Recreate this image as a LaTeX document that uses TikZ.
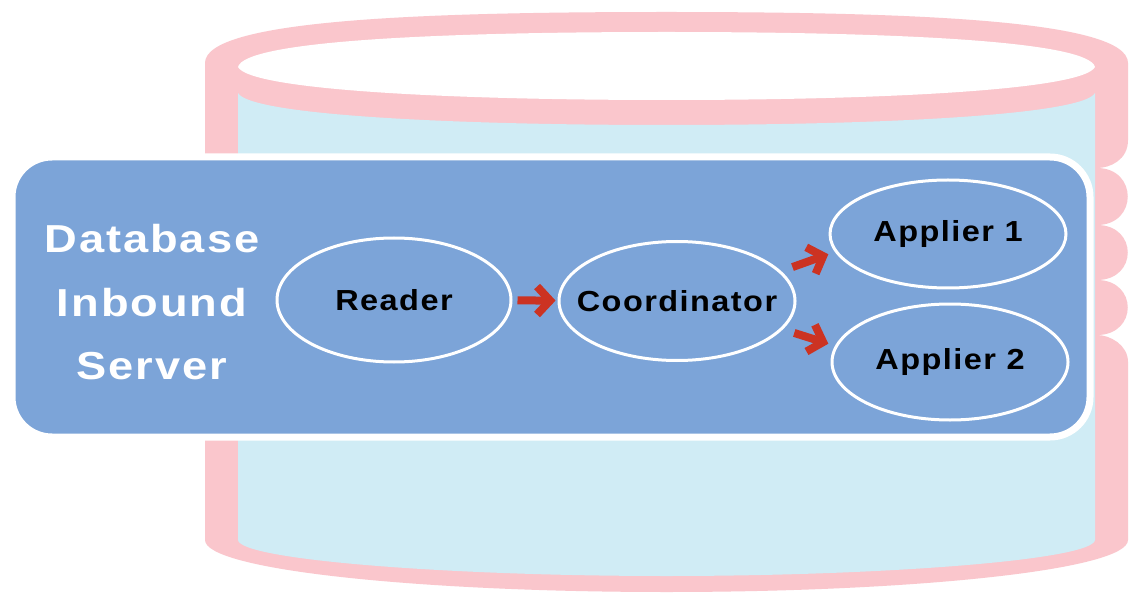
\documentclass[tikz,border=0pt]{standalone}
\usepackage{fontspec}
\setmainfont{Liberation Sans}
\newfontfamily\titlefont[FakeStretch=1.16,LetterSpace=5]{Liberation Sans}
\newfontfamily\nodefont[FakeStretch=1.12,LetterSpace=5]{Liberation Sans}
\usetikzlibrary{shapes.geometric,arrows.meta}
\definecolor{cylpink}{RGB}{250,198,204}
\definecolor{cylblue}{RGB}{208,236,245}
\definecolor{boxblue}{RGB}{124,164,216}
\definecolor{arrred}{RGB}{204,51,34}
\tikzset{
  procnode/.style={ellipse, draw=white, line width=3pt, inner sep=0pt,
    font=\nodefont\bfseries\fontsize{29}{34}\selectfont, text=black},
  redarrow/.style={draw=arrred, line width=8pt,
    -{Straight Barb[length=13pt,width=28pt]}},
  serverbox/.style={fill=boxblue, draw=white, line width=7pt, rounded corners=40pt},
}
\begin{document}
\begin{tikzpicture}[x=1pt,y=-1pt]
\useasboundingbox (0,0) rectangle (1131,593);
\fill[white] (0,0) rectangle (1131,593);
% outer cylinder body
\fill[cylpink] (205,63) .. controls (205,20) and (420,12) .. (666.5,12)
  .. controls (913,12) and (1128,20) .. (1128,63)
  -- (1128,140) .. controls (1128,160) and (1110,168) .. (1097,168)
  .. controls (1138,168) and (1138,225) .. (1097,225)
  .. controls (1138,225) and (1138,280) .. (1097,280)
  .. controls (1138,280) and (1138,335) .. (1097,335)
  .. controls (1110,335) and (1128,345) .. (1128,362)
  -- (1128,540) .. controls (1128,570) and (913,592) .. (666.5,592)
  .. controls (420,592) and (205,570) .. (205,540)
  -- cycle;
% inner light blue side
\fill[cylblue] (238,93) .. controls (250,115) and (450,125) .. (666.5,125)
  .. controls (883,125) and (1083,115) .. (1095,93)
  -- (1095,540) .. controls (1093,560) and (883,576) .. (666.5,576)
  .. controls (450,576) and (240,560) .. (238,540)
  -- cycle;
% top opening
\fill[white] (238,67) .. controls (245,40) and (450,32) .. (666.5,32)
  .. controls (883,32) and (1088,40) .. (1095,67)
  .. controls (1083,90) and (883,100) .. (666.5,100)
  .. controls (450,100) and (250,90) .. (238,67) -- cycle;
% server box
\draw[serverbox] (12,157) rectangle (1090,437);
\node[inner sep=0pt, align=center, text=white,
  font=\titlefont\bfseries\fontsize{39}{63.5}\selectfont] (title) at (152,302.5)
  {Database\\Inbound\\Server};
\node[procnode, minimum width=234pt, minimum height=124pt] (reader) at (394,300)
  {\makebox[0pt]{Reader}};
\node[procnode, minimum width=236pt, minimum height=119pt] (coord) at (677,301)
  {\makebox[0pt]{Coordinator}};
\node[procnode, minimum width=236pt, minimum height=108pt] (app1) at (948,234)
  {\makebox[0pt]{Applier 1}};
\node[procnode, minimum width=236pt, minimum height=116pt] (app2) at (950,362)
  {\makebox[0pt]{Applier 2}};
\draw[redarrow, shorten <=5pt, shorten >=2pt] (reader) -- (coord);
\draw[redarrow, shorten <=12pt, shorten >=7pt] (coord.16) -- (app1.189);
\draw[redarrow, shorten <=12pt, shorten >=7pt] (coord.345) -- (app2.172);
\end{tikzpicture}
\end{document}
